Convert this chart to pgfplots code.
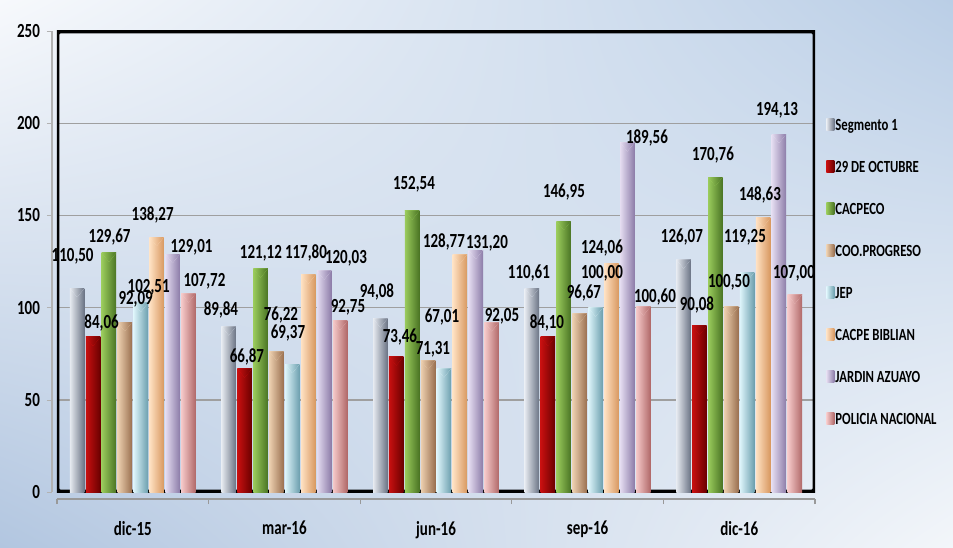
\documentclass[border=0pt]{standalone}
\usepackage{pgfplots}
\pgfplotsset{compat=1.18}
\usepackage{pgfplotstable}
\usetikzlibrary{shadings}
\usepackage{fontspec}
\setmainfont{Carlito}[FakeStretch=0.75]

\definecolor{bgUL}{HTML}{F7F9FC}
\definecolor{bgUR}{HTML}{BACEE6}
\definecolor{bgLL}{HTML}{B2C6E0}
\definecolor{bgLR}{HTML}{F3F6FA}

\definecolor{s0L}{HTML}{E6EAF0}\definecolor{s0M}{HTML}{B4BAC6}\definecolor{s0R}{HTML}{6A7384}\definecolor{s0T}{HTML}{EEF4FF}
\definecolor{s1L}{HTML}{C81010}\definecolor{s1M}{HTML}{9A0000}\definecolor{s1R}{HTML}{6A0000}\definecolor{s1T}{HTML}{E81010}
\definecolor{s2L}{HTML}{9ACB5C}\definecolor{s2M}{HTML}{6E9E3A}\definecolor{s2R}{HTML}{4A7424}\definecolor{s2T}{HTML}{A8DC64}
\definecolor{s3L}{HTML}{EDD0B0}\definecolor{s3M}{HTML}{C9A27E}\definecolor{s3R}{HTML}{9A7050}\definecolor{s3T}{HTML}{F8DDBC}
\definecolor{s4L}{HTML}{DDF4FA}\definecolor{s4M}{HTML}{A8D8E6}\definecolor{s4R}{HTML}{6C9FAE}\definecolor{s4T}{HTML}{EEFCFF}
\definecolor{s5L}{HTML}{FFE2C4}\definecolor{s5M}{HTML}{F8C291}\definecolor{s5R}{HTML}{D89860}\definecolor{s5T}{HTML}{FFE6CC}
\definecolor{s6L}{HTML}{E4DCF0}\definecolor{s6M}{HTML}{BCAED6}\definecolor{s6R}{HTML}{8C7CA8}\definecolor{s6T}{HTML}{EEE8F8}
\definecolor{s7L}{HTML}{F6CACA}\definecolor{s7M}{HTML}{E0A2A2}\definecolor{s7R}{HTML}{B06868}\definecolor{s7T}{HTML}{F8D4D4}

% x = period index, y = value, dx/dy = label offset (px) from bar top
\pgfplotstableread{
x y dx dy
0 110.50 -4.5 32
1 89.84 -7.8 16.6
2 94.08 -3.4 26.8
3 110.61 -3.0 15.1
4 126.07 -1.6 22.5
}\tSa
\pgfplotstableread{
x y dx dy
0 84.06 8.6 14.3
1 66.87 2.3 12.2
2 73.46 3.7 20
3 84.10 -0.9 14.2
4 90.08 -2.5 21.2
}\tSb
\pgfplotstableread{
x y dx dy
0 129.67 0.7 15.8
1 121.12 0.4 15.7
2 152.54 1.8 26.5
3 146.95 0.2 28.8
4 170.76 -2.4 21.7
}\tSc
\pgfplotstableread{
x y dx dy
0 92.09 10.8 22.5
1 76.22 4.5 36.8
2 71.31 4.9 10.9
3 96.67 4.3 21
4 100.50 -2.3 23.9
}\tSd
\pgfplotstableread{
x y dx dy
0 102.51 7.9 15.2
1 69.37 -4.4 31.5
2 67.01 -2.0 51.9
3 100.00 6.4 34.8
4 119.25 -2.2 35.1
}\tSe
\pgfplotstableread{
x y dx dy
0 138.27 -4.0 22.3
1 117.80 -2.3 21.8
2 128.77 -15.9 12.5
3 124.06 -9.5 15.2
4 148.63 -3.1 22.7
}\tSf
\pgfplotstableread{
x y dx dy
0 129.01 19.0 6.4
1 120.03 21.8 12.7
2 131.20 11.2 7
3 189.56 19.6 4.9
4 194.13 -2.0 23.5
}\tSg
\pgfplotstableread{
x y dx dy
0 107.72 16.0 12.5
1 92.75 7.9 13.2
2 92.05 10.3 5.5
3 100.60 11.7 9.7
4 107.00 -0.9 21.8
}\tSh

\pgfplotsset{
  lbl/.style={forget plot, draw=none, fill=none,
    visualization depends on={\thisrow{dx} \as \ldx},
    visualization depends on={\thisrow{dy} \as \ldy},
    nodes near coords={\pgfmathprintnumber[fixed,fixed zerofill,precision=2,use comma,assume math mode=true]{\pgfplotspointmeta}},
    every node near coord/.append style={anchor=center, xshift={\ldx*0.5pt}, yshift={\ldy*0.5pt},
      font=\bfseries\fontsize{10}{12}\selectfont, text=black, inner sep=0pt},
  },
}

% #1 table, #2 left, #3 middle, #4 right, #5 top bevel, #6 shift, #7 legend text
\newcommand{\serie}[7]{%
  \pgfplotsinvokeforeach{0,...,4}{%
    \addplot[forget plot, draw=none, left color=#2, middle color=#3, right color=#4,
      bar shift=#6, restrict x to domain=##1:##1,
      nodes near coords={\tikz\fill[#5] (0pt,0pt)--(7.2pt,0pt)--(3.6pt,-4.5pt)--cycle;},
      every node near coord/.append style={anchor=north, inner sep=0pt, outer sep=0pt}]
      table[x=x,y=y]{#1};
  }%
  \addlegendimage{draw=none, left color=#2, middle color=#3, right color=#4}
  \addlegendentry{#7}
}

\begin{document}
\begin{tikzpicture}
\shade[upper left=bgUL, upper right=bgUR, lower left=bgLL, lower right=bgLR]
  (-28.5pt,-27.5pt) rectangle (448pt,246pt);
\begin{axis}[
  scale only axis, width=379pt, height=230.5pt,
  xmin=-0.5, xmax=4.5, ymin=0, ymax=250,
  ybar, bar width=0.0956,
  axis x line*=bottom, axis y line*=left,
  axis x line shift=3.5pt, axis y line shift=2.5pt,
  x axis line style={-, draw=gray!80, line width=0.8pt},
  y axis line style={-, draw=gray!60, line width=0.6pt},
  ytick={0,50,...,250},
  xtick={0,...,4}, xticklabels={dic-15,mar-16,jun-16,sep-16,dic-16},
  minor xtick={-0.5,0.5,...,4.5},
  major x tick style={draw=none},
  minor x tick style={draw=gray!80, line width=0.6pt},
  minor tick length=2.5pt,
  major y tick style={draw=gray!60},
  major tick length=2.5pt,
  tick align=outside,
  ymajorgrids, major grid style={draw=gray!75, line width=0.7pt},
  /pgf/number format/assume math mode=true,
  ticklabel style={font=\bfseries\fontsize{10}{12}\selectfont, text=black},
  xticklabel style={yshift=-5pt},
  legend cell align=left,
  legend style={at={(axis description cs:1,0.8126)}, anchor=north west, xshift=5.5pt,
    draw=none, fill=none, inner sep=0pt, row sep=12.5pt,
    font=\bfseries\fontsize{8.5}{10}\selectfont,
    nodes={inner sep=0.5pt, text height=6pt, text depth=1.5pt}},
  legend image code/.code={\path[#1, draw=none] (0pt,-2pt) rectangle (4pt,3.8pt);},
]
\draw[line width=2.5pt, rounded corners=1.5pt] (rel axis cs:0,0) rectangle (rel axis cs:1,1);

\serie{\tSa}{s0L}{s0M}{s0R}{s0T}{-0.3672}{Segmento 1}
\serie{\tSb}{s1L}{s1M}{s1R}{s1T}{-0.2623}{29 DE OCTUBRE}
\serie{\tSc}{s2L}{s2M}{s2R}{s2T}{-0.1574}{CACPECO}
\serie{\tSd}{s3L}{s3M}{s3R}{s3T}{-0.0525}{COO.PROGRESO}
\serie{\tSe}{s4L}{s4M}{s4R}{s4T}{0.0525}{JEP}
\serie{\tSf}{s5L}{s5M}{s5R}{s5T}{0.1574}{CACPE BIBLIAN}
\serie{\tSg}{s6L}{s6M}{s6R}{s6T}{0.2623}{JARDIN AZUAYO}
\serie{\tSh}{s7L}{s7M}{s7R}{s7T}{0.3672}{POLICIA NACIONAL}

\addplot[lbl, bar shift=-0.3672] table[x=x,y=y]{\tSa};
\addplot[lbl, bar shift=-0.2623] table[x=x,y=y]{\tSb};
\addplot[lbl, bar shift=-0.1574] table[x=x,y=y]{\tSc};
\addplot[lbl, bar shift=-0.0525] table[x=x,y=y]{\tSd};
\addplot[lbl, bar shift=0.0525] table[x=x,y=y]{\tSe};
\addplot[lbl, bar shift=0.1574] table[x=x,y=y]{\tSf};
\addplot[lbl, bar shift=0.2623] table[x=x,y=y]{\tSg};
\addplot[lbl, bar shift=0.3672] table[x=x,y=y]{\tSh};
\end{axis}
\pgfresetboundingbox
\path (-28.5pt,-27.5pt) rectangle (448pt,246pt);
\end{tikzpicture}
\end{document}
